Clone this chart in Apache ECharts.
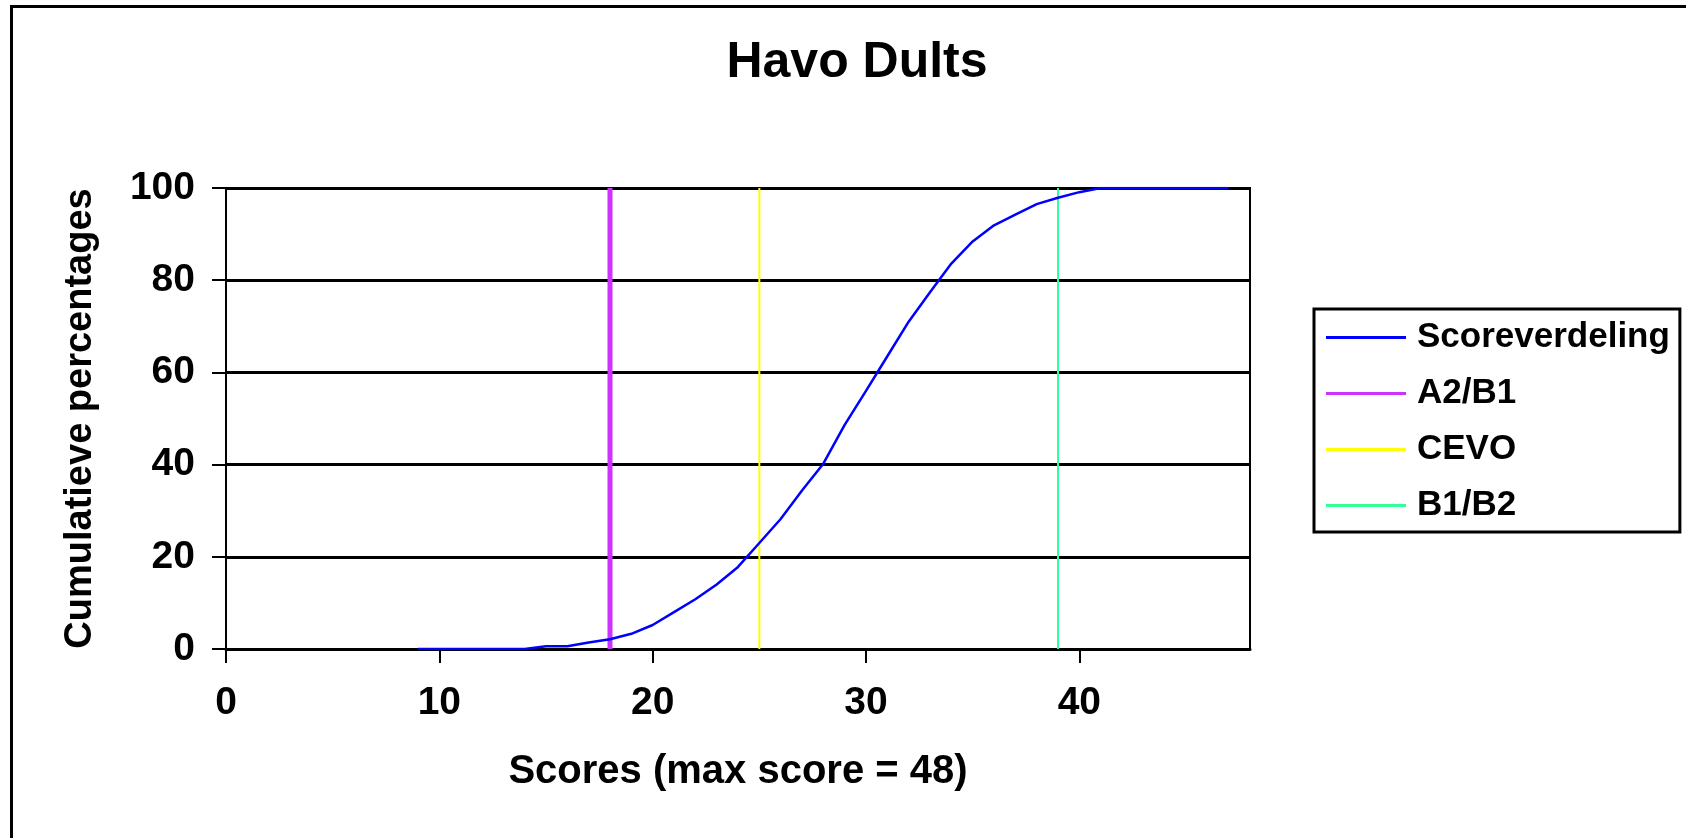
<!DOCTYPE html>
<html>
<head>
<meta charset="utf-8">
<script src="https://cdn.jsdelivr.net/npm/echarts@6/dist/echarts.min.js"></script>
<style>
html,body{margin:0;padding:0;background:#fff;}
#chart{width:1686px;height:838px;}
</style>
</head>
<body>
<div id="chart"></div>
<script>
// ---- data ----
const titleText = 'Havo Dults';
const xAxisName = 'Scores (max score = 48)';
const yAxisName = 'Cumulatieve percentages';
const scores = [9,10,11,12,13,14,15,16,17,18,19,20,21,22,23,24,25,26,27,28,29,30,31,32,33,34,35,36,37,38,39,40,41,42,43,44,45,46,47];
const cumulative = [0,0,0,0,0,0,0.6,0.6,1.4,2.1,3.3,5.2,8.0,10.8,14.0,17.8,23.0,28.2,34.4,40.2,48.6,56.0,63.5,71.0,77.4,83.6,88.4,91.9,94.2,96.5,97.9,99.1,100,100,100,100,100,100,100];
const curveName = 'Scoreverdeling';
const cutoffNames = ['A2/B1','CEVO','B1/B2'];
const cutoffScores = [18,25,39];
const yRange = [0,100];
const xTicks = [0,10,20,30,40];

// ---- styles ----
const curveColor = '#0000FF';
const cutoffColors = ['#CC33FF','#FFFF00','#33FF99'];
const cutoffWidths = [5,2,2];
const FONT = 'Liberation Sans';

const chart = echarts.init(document.getElementById('chart'), null, {renderer:'canvas'});

const series = [{
  name: curveName,
  type: 'line',
  data: scores.map((s,i)=>[s,cumulative[i]]),
  symbol: 'none',
  lineStyle: {color:curveColor, width:2.5},
  itemStyle: {color:curveColor},
  z: 5,
  animation: false
}];
cutoffNames.forEach((n,i)=>{
  series.push({
    name: n,
    type: 'line',
    data: [[cutoffScores[i], yRange[0]],[cutoffScores[i], yRange[1]]],
    symbol: 'none',
    lineStyle: {color: cutoffColors[i], width: cutoffWidths[i]},
    itemStyle: {color: cutoffColors[i]},
    z: 4,
    animation: false
  });
});

const option = {
  backgroundColor: '#fff',
  animation: false,
  graphic: [
    {type:'line', shape:{x1:10, y1:6.5, x2:1686, y2:6.5}, style:{stroke:'#000', lineWidth:3}},
    {type:'line', shape:{x1:11.5, y1:5, x2:11.5, y2:838}, style:{stroke:'#000', lineWidth:3}},
    {type:'text', x:857, y:63, style:{text:titleText, font:'bold 50px "Liberation Sans"', fill:'#000', align:'center', verticalAlign:'middle'}}
  ],
  grid: {left:226, right:436, top:188, bottom:189, show:true, borderColor:'#000', borderWidth:2, backgroundColor:'#fff'},
  legend: {
    orient:'vertical', left:1314, top:309,
    data:[curveName].concat(cutoffNames),
    icon:'rect',
    itemWidth:80, itemHeight:3, itemGap:21, itemTextGap:12,
    padding:[11,10,9,12],
    borderColor:'#000', borderWidth:3, backgroundColor:'#fff',
    textStyle:{fontFamily:FONT, fontWeight:'bold', fontSize:35, lineHeight:34, color:'#000', padding:[0,0,0,6]}
  },
  xAxis: {
    type:'value', min:0, max:48, interval:10,
    name:xAxisName, nameLocation:'middle', nameGap:103,
    nameTextStyle:{fontFamily:FONT, fontWeight:'bold', fontSize:40, color:'#000'},
    axisLine:{show:true, lineStyle:{color:'#000', width:3}},
    axisTick:{show:true, length:14, lineStyle:{color:'#000', width:2}},
    axisLabel:{margin:35, fontFamily:FONT, fontWeight:'bold', fontSize:39, color:'#000', showMaxLabel:false,
      formatter:(v)=> xTicks.indexOf(v)>=0 ? String(v) : ''},
    splitLine:{show:false}
  },
  yAxis: {
    type:'value', min:yRange[0], max:yRange[1], interval:20,
    name:yAxisName, nameLocation:'middle', nameGap:126, nameRotate:90,
    nameTextStyle:{fontFamily:FONT, fontWeight:'bold', fontSize:38, color:'#000'},
    axisLine:{show:true, lineStyle:{color:'#000', width:2}},
    axisTick:{show:true, length:14, lineStyle:{color:'#000', width:2}},
    axisLabel:{margin:31, fontFamily:FONT, fontWeight:'bold', fontSize:39, color:'#000'},
    splitLine:{show:true, lineStyle:{color:'#000', width:3}}
  },
  series: series
};
chart.setOption(option);
</script>
</body>
</html>
